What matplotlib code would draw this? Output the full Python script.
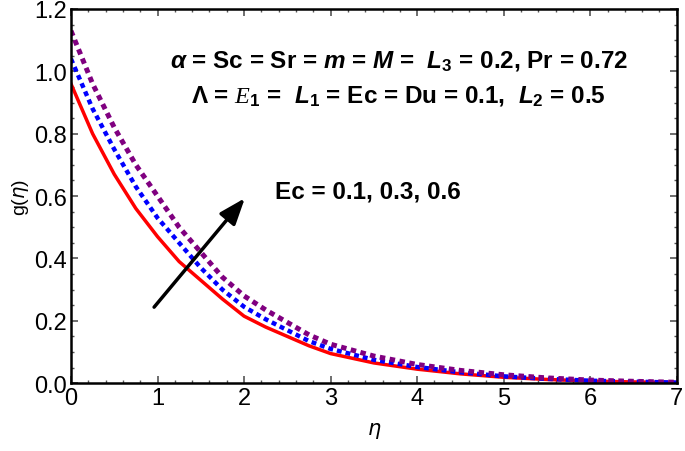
import matplotlib
matplotlib.use("Agg")
import matplotlib.pyplot as plt
from matplotlib.ticker import MultipleLocator

# eta positions and g(eta) for Ec = 0.1, 0.3, 0.6
eta = [0, 0.25, 0.5, 0.75, 1, 1.25, 1.5, 1.75, 2, 2.25, 2.5, 2.75, 3,
       3.5, 4, 4.5, 5, 5.5, 6, 6.5, 7]
g_ec01 = [0.96, 0.80, 0.67, 0.56, 0.47, 0.39, 0.33, 0.27, 0.215, 0.18, 0.15, 0.12, 0.095,
          0.065, 0.045, 0.03, 0.019, 0.012, 0.007, 0.004, 0.002]
g_ec03 = [1.04, 0.88, 0.75, 0.63, 0.53, 0.45, 0.37, 0.30, 0.245, 0.205, 0.17, 0.135, 0.11,
          0.075, 0.052, 0.035, 0.022, 0.014, 0.008, 0.005, 0.002]
g_ec06 = [1.13, 0.96, 0.82, 0.70, 0.60, 0.50, 0.42, 0.34, 0.28, 0.235, 0.195, 0.155, 0.125,
          0.087, 0.06, 0.041, 0.027, 0.017, 0.01, 0.006, 0.003]

plt.rcParams['font.family'] = ['Liberation Sans', 'DejaVu Sans']
plt.rcParams['mathtext.fontset'] = 'custom'
plt.rcParams['mathtext.rm'] = 'Liberation Sans:bold'
plt.rcParams['mathtext.it'] = 'Liberation Sans:italic:bold'
plt.rcParams['mathtext.bf'] = 'Liberation Sans:bold'
plt.rcParams['mathtext.cal'] = 'Liberation Serif:italic'

fig = plt.figure(figsize=(6.85, 4.52), dpi=100)
ax = fig.add_axes([0.1036, 0.150, 0.8844, 0.828])

ax.plot(eta, g_ec01, color='#ff0000', lw=2.5)
ax.plot(eta, g_ec03, color='#0000ff', lw=3.2, dashes=(1.1, 0.9), dash_capstyle='butt')
ax.plot(eta, g_ec06, color='#800080', lw=3.6, dashes=(1.1, 0.9), dash_capstyle='butt')

ax.set_xlim(0, 7)
ax.set_ylim(0, 1.2)
ax.xaxis.set_major_locator(MultipleLocator(1))
ax.xaxis.set_minor_locator(MultipleLocator(0.2))
ax.yaxis.set_major_locator(MultipleLocator(0.2))
ax.yaxis.set_minor_locator(MultipleLocator(0.05))
ax.yaxis.set_major_formatter(plt.FuncFormatter(lambda v, p: f'{v:.1f}'))

ax.tick_params(which='both', direction='in', top=True, right=True, color='#555555')
ax.tick_params(which='major', length=5, width=1.2, labelsize=17, pad=3)
ax.tick_params(which='minor', length=2.5, width=1.0)
for s in ax.spines.values():
    s.set_linewidth(1.8)

ax.set_xlabel(r'$\eta$', fontsize=15, labelpad=8, math_fontfamily='dejavusans')
ax.set_ylabel(r'g($\eta$)', fontsize=14, labelpad=2, math_fontfamily='dejavusans')

ax.text(3.79, 1.033, r'$\mathit{\alpha}$ = Sc = Sr = $\mathit{m}$ = $\mathit{M}$ =  $\mathit{L}_3$ = 0.2, Pr = 0.72',
        ha='center', va='center', fontsize=17.5, fontweight='bold')
ax.text(3.78, 0.921, r'$\Lambda$ = $\mathcal{E}_1$ =  $\mathit{L}_1$ = Ec = Du = 0.1,  $\mathit{L}_2$ = 0.5',
        ha='center', va='center', fontsize=17.5, fontweight='bold')
ax.text(2.36, 0.615, 'Ec = 0.1, 0.3, 0.6', ha='left', va='center', fontsize=17.5, fontweight='bold')

ax.annotate('', xy=(2.03, 0.60), xytext=(0.94, 0.237),
            arrowprops=dict(arrowstyle='-|>,head_length=1.6,head_width=0.6', color='black', lw=2.5))

fig.savefig('out.png', dpi=100)
